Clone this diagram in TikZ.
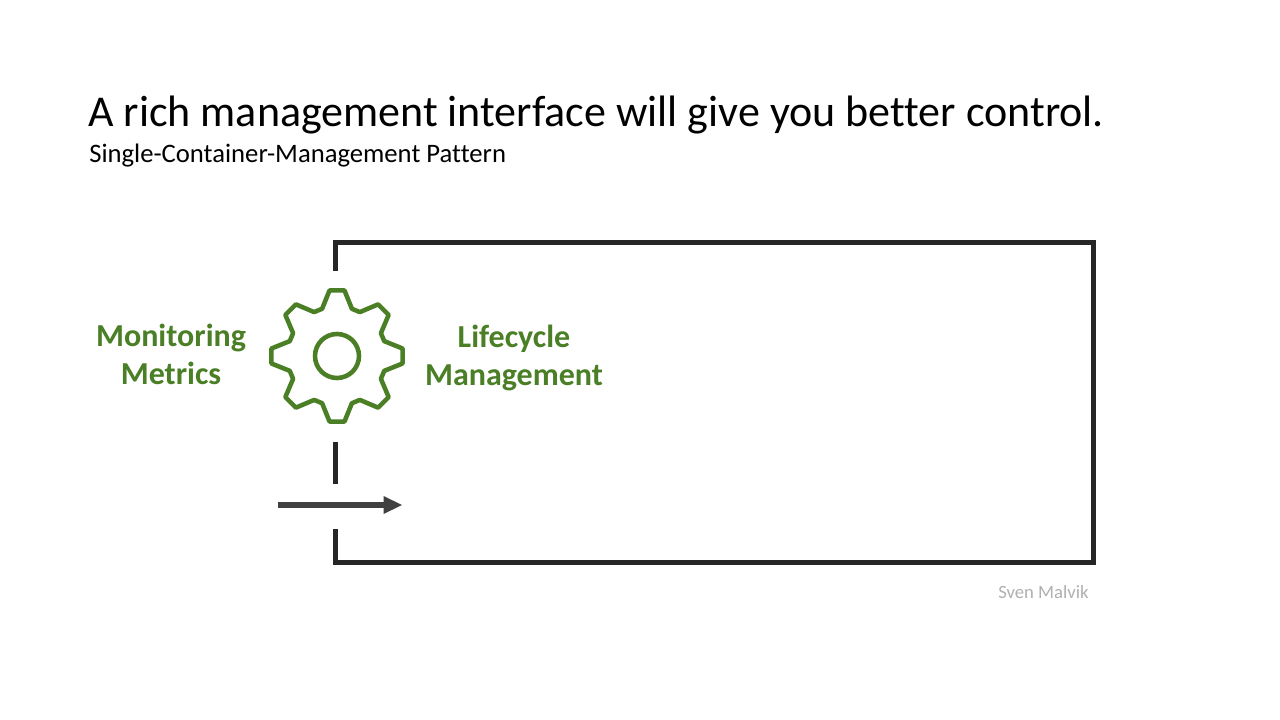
\documentclass[tikz,border=0pt]{standalone}
\usepackage{fontspec}
\usetikzlibrary{calc}
\setmainfont[Ligatures=NoCommon]{Carlito}
\definecolor{gearGreen}{HTML}{4A7F26}
\definecolor{boxDark}{HTML}{262626}
\definecolor{arrowDark}{HTML}{404040}
\definecolor{credit}{HTML}{B0B0B0}
\tikzset{
  x=0.75pt,y=-0.75pt,
  frameline/.style={draw=boxDark,line width=3.5pt,line cap=butt},
  gearline/.style={draw=gearGreen,line width=3.4pt,line join=round},
  lbl/.style={font=\bfseries\fontsize{24}{28.5}\selectfont,text=gearGreen,align=center,inner sep=0pt},
  txt/.style={anchor=base west,inner sep=0pt,text=black},
}
\begin{document}
\begin{tikzpicture}
\useasboundingbox (0,0) rectangle (1280,720);
\fill[white] (0,0) rectangle (1280,720);
\node[txt,font=\fontsize{33}{40}\selectfont] (title) at (88,127) {A rich management interface will give you better control.};
\node[txt,font=\fontsize{20}{24}\selectfont] (sub) at (89,163) {Single-Container-Management Pattern};
\coordinate (f1) at (335.7,271);
\coordinate (f2) at (335.7,242.5);
\coordinate (f3) at (1093.5,242.5);
\coordinate (f4) at (1093.5,562.5);
\coordinate (f5) at (335.7,562.5);
\coordinate (f6) at (335.7,529);
\coordinate (g1) at (335.7,442);
\coordinate (g2) at (335.7,484);
\draw[frameline] (f1) -- (f2) -- (f3) -- (f4) -- (f5) -- (f6);
\draw[frameline] (g1) -- (g2);
\coordinate (a1) at (278,505);
\coordinate (a2) at (384,505);
\coordinate (a3) at (402,505);
\draw[draw=arrowDark,line width=4.1pt] (a1) -- (a2);
\fill[arrowDark] (383.5,496) -- (a3) -- (383.5,514) -- cycle;
\coordinate (gc) at (337,356);
\draw[gearline] ($(gc)+(-17.5:49.5)$)
  \foreach \a in {0,45,...,315} {
    -- ($(gc)+(\a-17.5:49.5)$) -- ($(gc)+(\a-6.5:66)$) -- ($(gc)+(\a+6.5:66)$) -- ($(gc)+(\a+17.5:49.5)$)
  } -- cycle;
\draw[gearline] (gc) circle (22);
\node[lbl] (mm) at (171,354.5) {Monitoring\\Metrics};
\node[lbl] (lm) at (514,358) {Lifecycle\\Management};
\node[anchor=base west,inner sep=0pt,text=credit,font=\fontsize{14}{16}\selectfont] (sm) at (998,598) {Sven Malvik};
\end{tikzpicture}
\end{document}
